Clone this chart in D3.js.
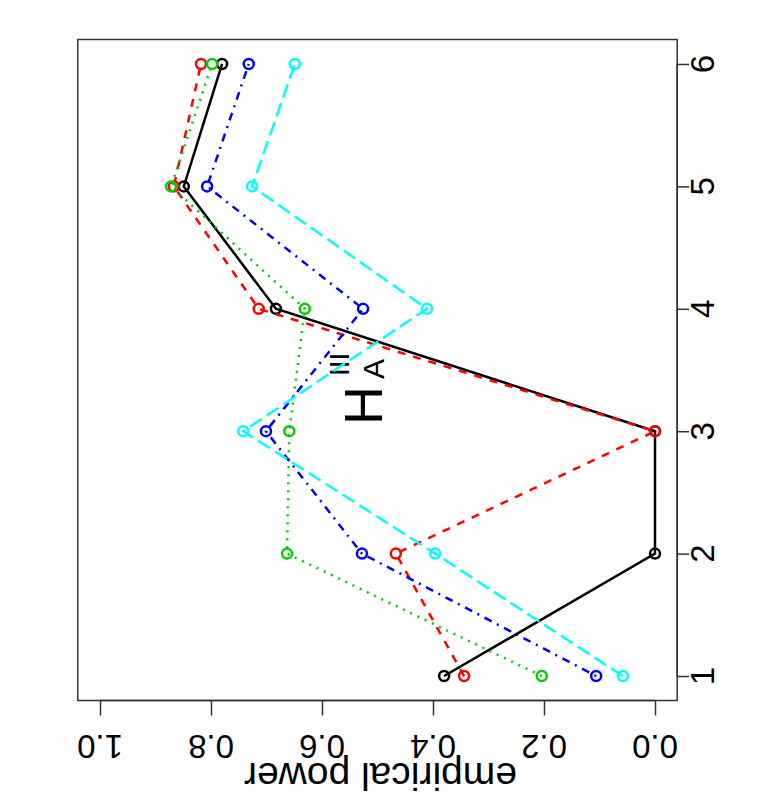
<!DOCTYPE html>
<html>
<head>
<meta charset="utf-8">
<script src="https://cdn.jsdelivr.net/npm/d3@7"></script>
<style>
html,body{margin:0;padding:0;background:#fff;}
svg{display:block;font-family:"Liberation Sans",Arial,sans-serif;}
</style>
</head>
<body>
<svg id="chart" width="777" height="800"></svg>
<script>
// data
const idx = [1, 2, 3, 4, 5, 6];
const powerTicks = [0.0, 0.2, 0.4, 0.6, 0.8, 1.0];
const seriesNames = ["s1", "s2", "s3", "s4", "s5"];
const blackVals = [0.380, 0.000, 0.000, 0.683, 0.849, 0.780];
const redVals   = [0.344, 0.467, 0.000, 0.714, 0.867, 0.818];
const greenVals = [0.204, 0.663, 0.659, 0.631, 0.872, 0.798];
const blueVals  = [0.106, 0.528, 0.701, 0.526, 0.807, 0.732];
const cyanVals  = [0.058, 0.396, 0.742, 0.411, 0.726, 0.649];
const colors = ["#000000", "#FF0000", "#00CD00", "#0000FF", "#00FFFF"];
const dashes = [null, "8,8", "2,6", "2,6,8,6", "14,6"];
const allVals = [blackVals, redVals, greenVals, blueVals, cyanVals];

const svg = d3.select("#chart");
// rotated R plot: power runs right->left, index runs bottom->top
const p = d3.scaleLinear().domain([-0.04, 1.04]).range([677.2, 77.8]);
const ix = d3.scaleLinear().domain([0.8, 6.2]).range([700.5, 39.5]);

// box
svg.append("rect")
  .attr("x", p(1.04)).attr("y", ix(6.2))
  .attr("width", p(-0.04) - p(1.04)).attr("height", ix(0.8) - ix(6.2))
  .attr("fill", "none").attr("stroke", "#333").attr("stroke-width", 1.5);

// bottom axis (power)
const ax = svg.append("g").attr("transform", `translate(0,${ix(0.8)})`)
  .call(d3.axisBottom(p).tickValues(powerTicks).tickSize(15).tickFormat(""));
ax.select(".domain").attr("stroke", "#333").attr("stroke-width", 1.5)
  .attr("d", `M${p(0)},0H${p(1)}`);
ax.selectAll(".tick line").attr("stroke", "#333").attr("stroke-width", 1.5);
svg.append("g").selectAll("text").data(powerTicks).join("text")
  .attr("transform", d => `translate(${p(d)},${746}) rotate(180)`)
  .attr("text-anchor", "middle").attr("dominant-baseline", "central")
  .attr("font-size", 33).attr("fill", "#000")
  .text(d => d3.format(".1f")(d));

// right axis (index)
const ay = svg.append("g").attr("transform", `translate(${p(-0.04)},0)`)
  .call(d3.axisRight(ix).tickValues(idx).tickSize(12).tickFormat(""));
ay.select(".domain").attr("stroke", "#333").attr("stroke-width", 1.5)
  .attr("d", `M0,${ix(1)}V${ix(6)}`);
ay.selectAll(".tick line").attr("stroke", "#333").attr("stroke-width", 1.5);
svg.append("g").selectAll("text").data(idx).join("text")
  .attr("transform", d => `translate(${702},${ix(d)}) rotate(-90)`)
  .attr("text-anchor", "middle").attr("dominant-baseline", "central")
  .attr("font-size", 33).attr("fill", "#000")
  .text(d => d);

// axis label (upside down: baseline on top)
svg.append("text")
  .attr("transform", `translate(${(p(0) + p(1)) / 2 + 3},${763}) rotate(180)`)
  .attr("text-anchor", "middle")
  .attr("font-size", 39).attr("fill", "#000")
  .text("empirical power");

// title H_A^III
const t = svg.append("g").attr("transform", "translate(382,425) rotate(-90)");
t.append("text").attr("x", 0).attr("y", 0).attr("font-size", 54).text("H");
t.append("text").attr("x", 46).attr("y", 2).attr("font-size", 30).text("A");
t.append("text").attr("x", 49).attr("y", -33).attr("font-size", 28).text("III");

// series
const line = d3.line().x(d => p(d.v)).y(d => ix(d.i));
allVals.forEach((vals, k) => {
  const pts = idx.map((i, j) => ({i: i, v: vals[j]}));
  const g = svg.append("g").attr("class", "series " + seriesNames[k]);
  g.append("path").datum(pts).attr("d", line)
    .attr("fill", "none").attr("stroke", colors[k]).attr("stroke-width", 2.5)
    .attr("stroke-dasharray", dashes[k]);
  g.selectAll("circle").data(pts).join("circle")
    .attr("cx", d => p(d.v)).attr("cy", d => ix(d.i)).attr("r", 5)
    .attr("fill", "none").attr("stroke", colors[k]).attr("stroke-width", 2.5);
});
</script>
</body>
</html>
